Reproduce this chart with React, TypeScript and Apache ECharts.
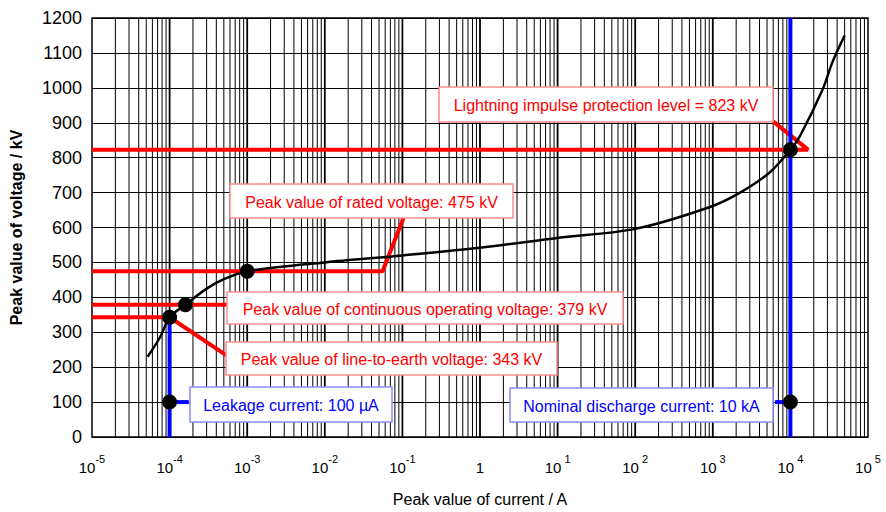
import React, { useEffect, useRef } from "react";
import * as echarts from "echarts";

// Characteristic curve (current in A, voltage in kV)
const currents = [5.2e-5, 7.5e-5, 1e-4, 1.6e-4, 3e-4, 5e-4, 1e-3, 1e-2, 1e-1, 1, 10, 100, 900, 2250, 5500, 1e4, 1.33e4, 2.6e4, 3.5e4, 5e4];
const voltages = [230, 285, 343, 379, 425, 452, 475, 500, 520, 542, 570, 596, 658, 700, 759, 823, 862, 995, 1075, 1150];

// Marked points
const dotCurrents = [1e-4, 1.6e-4, 1e-3, 1e4, 1e-4, 1e4];
const dotVoltages = [343, 379, 475, 823, 100, 100];

// Annotation leader paths [current A, kV]
const lipPath = [[1e-5, 823], [1.69e4, 823], [5.98e3, 904]];
const ratedPath = [[1e-5, 475], [0.0556, 475], [0.1035, 628]];
const mcovPath = [[1e-5, 379], [5.6e-4, 379]];
const lePath = [[1e-5, 343], [1e-4, 343], [5.46e-4, 233]];
const leakPath = [[1e-4, 0], [1e-4, 343]];
const leakConn = [[1e-4, 100], [1.77e-4, 100]];
const nomPath = [[1e4, 0], [1e4, 1200]];
const nomConn = [[6.35e3, 100], [1e4, 100]];

const annotationTexts = [
  "Lightning impulse protection level = 823 kV",
  "Peak value of rated voltage: 475 kV",
  "Peak value of continuous operating voltage: 379 kV",
  "Peak value of line-to-earth voltage: 343 kV",
  "Leakage current: 100 µA",
  "Nominal discharge current: 10 kA",
];

const yTicks = { min: 0, max: 1200, interval: 100 };
const xDecadeExponents = [-5, -4, -3, -2, -1, 0, 1, 2, 3, 4, 5];

const FONT = "'Liberation Sans', Arial, sans-serif";
const RED = "#ff0000";
const BLUE = "#0000ff";

const lg = (a: number) => Math.log10(a);
const toXY = (p: number[]) => [lg(p[0]), p[1]];

export default function App() {
  const ref = useRef<HTMLDivElement>(null);
  useEffect(() => {
    if (!ref.current) return;
    const chart = echarts.init(ref.current, null, { renderer: "svg" });

    // log-paper vertical grid lines (k * 10^n)
    const gridLines: number[][] = [];
    for (let i = 0; i < xDecadeExponents.length - 1; i++) {
      const base = Math.pow(10, xDecadeExponents[i]);
      for (let k = 1; k <= 9; k++) {
        if (k === 1 && i === 0) continue;
        gridLines.push([lg(k * base), k === 1 ? 1 : 0]);
      }
    }

    const pathSeries = (data: number[][], color: string) => ({
      type: "line",
      data: data.map(toXY),
      symbol: "none",
      silent: true,
      z: 3,
      lineStyle: { color, width: 4 },
    });

    const boxes = [
      { x: 439, y: 87, w: 334, h: 35, c: RED, b: "#ff8c8c", t: annotationTexts[0] },
      { x: 230, y: 184, w: 283, h: 34, c: RED, b: "#ff8c8c", t: annotationTexts[1] },
      { x: 227, y: 292, w: 396, h: 32, c: RED, b: "#ff8c8c", t: annotationTexts[2] },
      { x: 226, y: 342, w: 331, h: 33, c: RED, b: "#ff8c8c", t: annotationTexts[3] },
      { x: 190, y: 387, w: 202, h: 35, c: BLUE, b: "#8c8cff", t: annotationTexts[4] },
      { x: 510, y: 388, w: 263, h: 34, c: BLUE, b: "#8c8cff", t: annotationTexts[5] },
    ];
    const graphic: any[] = [];
    boxes.forEach((bx) => {
      graphic.push({
        type: "rect",
        shape: { x: bx.x, y: bx.y, width: bx.w, height: bx.h },
        style: { fill: "#fff", stroke: bx.b, lineWidth: 1.5 },
        z: 100,
      });
      graphic.push({
        type: "text",
        x: bx.x + bx.w / 2,
        y: bx.y + bx.h / 2 + 1,
        style: {
          text: bx.t,
          fill: bx.c,
          font: `16px ${FONT}`,
          textAlign: "center",
          textVerticalAlign: "middle",
        },
        z: 101,
      });
    });

    chart.setOption({
      animation: false,
      backgroundColor: "#fff",
      grid: { left: 91, right: 18, top: 18, bottom: 72, show: true, borderColor: "#000", borderWidth: 1.5, backgroundColor: "transparent" },
      xAxis: {
        type: "value",
        min: -5,
        max: 5,
        interval: 1,
        name: "Peak value of current / A",
        nameLocation: "middle",
        nameGap: 54,
        nameTextStyle: { fontFamily: FONT, fontSize: 16, color: "#000" },
        axisLine: { show: false },
        axisTick: { show: false },
        splitLine: { show: false },
        axisLabel: {
          margin: 16,
          formatter: (v: number) => {
            const e = Math.round(v);
            if (e === 0) return "{b|1}";
            return `{b|10}{s|${e < 0 ? "-" : " "}${Math.abs(e)}}`;
          },
          rich: {
            b: { fontFamily: FONT, fontSize: 15, color: "#000", lineHeight: 22, verticalAlign: "bottom" },
            s: { fontFamily: FONT, fontSize: 11, color: "#000", lineHeight: 22, verticalAlign: "top" },
          },
        },
      },
      yAxis: {
        type: "value",
        min: yTicks.min,
        max: yTicks.max,
        interval: yTicks.interval,
        name: "Peak value of voltage / kV",
        nameLocation: "middle",
        nameGap: 68,
        nameRotate: 90,
        nameTextStyle: { fontFamily: FONT, fontSize: 16, color: "#000", fontWeight: "bold" },
        axisLine: { show: false },
        axisTick: { show: false },
        axisLabel: { fontFamily: FONT, fontSize: 18, color: "#000", margin: 10, formatter: (v: number) => String(v) },
        splitLine: { show: true, lineStyle: { color: "#000", width: 1 } },
      },
      series: [
        {
          type: "custom",
          silent: true,
          z: 1,
          data: gridLines,
          renderItem: (params: any, api: any) => {
            const x = api.value(0);
            const major = api.value(1);
            const p1 = api.coord([x, yTicks.min]);
            const p2 = api.coord([x, yTicks.max]);
            return {
              type: "line",
              shape: { x1: p1[0], y1: p1[1], x2: p2[0], y2: p2[1] },
              style: { stroke: "#000", lineWidth: major ? 1.8 : 1 },
            };
          },
        },
        pathSeries(lipPath, RED),
        pathSeries(ratedPath, RED),
        pathSeries(mcovPath, RED),
        pathSeries(lePath, RED),
        pathSeries(leakPath, BLUE),
        pathSeries(leakConn, BLUE),
        pathSeries(nomPath, BLUE),
        pathSeries(nomConn, BLUE),
        {
          type: "line",
          data: currents.map((c, i) => [lg(c), voltages[i]]),
          symbol: "none",
          smooth: 0.3,
          silent: true,
          z: 4,
          lineStyle: { color: "#000", width: 2.5 },
        },
        {
          type: "scatter",
          data: dotCurrents.map((c, i) => [lg(c), dotVoltages[i]]),
          symbolSize: 15,
          silent: true,
          z: 5,
          itemStyle: { color: "#000", opacity: 1 },
        },
      ],
      graphic,
    });
    return () => chart.dispose();
  }, []);
  return <div ref={ref} style={{ position: "absolute", left: 0, top: 0, width: 886, height: 512 }} />;
}
